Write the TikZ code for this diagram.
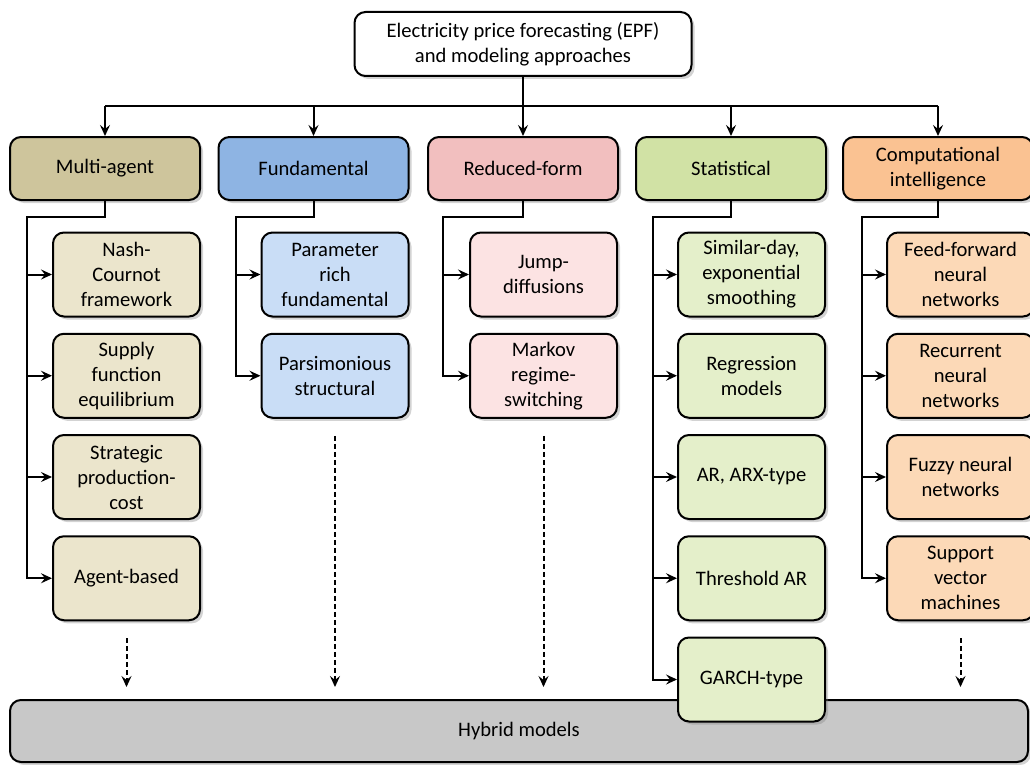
\documentclass[tikz,border=0pt]{standalone}
\usepackage{fontspec}
\setmainfont{Carlito}
\usetikzlibrary{arrows.meta,shadows}

\definecolor{agentcat}{RGB}{206,197,156}
\definecolor{agentsub}{RGB}{235,229,204}
\definecolor{fundcat}{RGB}{142,180,227}
\definecolor{fundsub}{RGB}{201,221,246}
\definecolor{redcat}{RGB}{242,191,191}
\definecolor{redsub}{RGB}{252,227,227}
\definecolor{statcat}{RGB}{209,226,165}
\definecolor{statsub}{RGB}{228,239,202}
\definecolor{compcat}{RGB}{250,194,146}
\definecolor{compsub}{RGB}{252,217,183}
\definecolor{hybridgray}{RGB}{200,200,200}

\tikzset{
  box/.style={draw=black, line width=2pt, rounded corners=11pt, align=center,
    inner sep=0pt, font=\fontsize{20.6}{25}\selectfont,
    drop shadow={shadow xshift=3pt, shadow yshift=-3pt, opacity=0.35}},
  catbox/.style={box, minimum width=190pt, minimum height=63pt},
  subbox/.style={box, minimum width=147pt, minimum height=84pt},
  arr/.style={line width=2pt, -{Stealth[length=11pt,width=10pt,inset=4pt]}},
  dasharr/.style={arr, dash pattern=on 5pt off 3pt, shorten >=12pt}
}

\begin{document}
\begin{tikzpicture}[x=1pt,y=-1pt]
\useasboundingbox (0,0) rectangle (1030,765);

\node[box, fill=white, minimum width=337pt, minimum height=64pt] (epf) at (523,44)
  {Electricity price forecasting (EPF)\\and modeling approaches};

% approaches
\node[catbox, fill=agentcat] (multi) at (105,168.5) {Multi-agent};
\node[catbox, fill=fundcat] (fund) at (313.5,168.5) {Fundamental};
\node[catbox, fill=redcat] (reduced) at (523,168.5) {Reduced-form};
\node[catbox, fill=statcat] (stat) at (731,168.5) {Statistical};
\node[catbox, fill=compcat] (comp) at (938,168.5) {Computational\\intelligence};

% hybrid
\node[box, fill=hybridgray, minimum width=1018pt, minimum height=62pt] (hybrid) at (519,731) {Hybrid models};

% multi-agent
\node[subbox, fill=agentsub] (nash) at (126.5,274.5) {Nash-\\Cournot\\framework};
\node[subbox, fill=agentsub] (supply) at (126.5,375.75) {Supply\\function\\equilibrium};
\node[subbox, fill=agentsub] (strategic) at (126.5,477) {Strategic\\production-\\cost};
\node[subbox, fill=agentsub] (agent) at (126.5,578.25) {Agent-based};

% fundamental
\node[subbox, fill=fundsub] (paramrich) at (335,274.5) {Parameter\\rich\\fundamental};
\node[subbox, fill=fundsub] (parsim) at (335,375.75) {Parsimonious\\structural};

% reduced-form
\node[subbox, fill=redsub] (jump) at (543.5,274.5) {Jump-\\diffusions};
\node[subbox, fill=redsub] (markov) at (543.5,375.75) {Markov\\regime-\\switching};

% statistical
\node[subbox, fill=statsub] (similar) at (751.5,274.5) {Similar-day,\\exponential\\smoothing};
\node[subbox, fill=statsub] (regression) at (751.5,375.75) {Regression\\models};
\node[subbox, fill=statsub] (arx) at (751.5,477) {AR, ARX-type};
\node[subbox, fill=statsub] (tar) at (751.5,578.25) {Threshold AR};
\node[subbox, fill=statsub] (garch) at (751.5,679.5) {GARCH-type};

% computational intelligence
\node[subbox, fill=compsub] (ffnn) at (960.5,274.5) {Feed-forward\\neural\\networks};
\node[subbox, fill=compsub] (rnn) at (960.5,375.75) {Recurrent\\neural\\networks};
\node[subbox, fill=compsub] (fuzzy) at (960.5,477) {Fuzzy neural\\networks};
\node[subbox, fill=compsub] (svm) at (960.5,578.25) {Support\\vector\\machines};

% top split
\coordinate (split) at (523,106);
\draw[line width=2pt] (multi.north |- split) -- (comp.north |- split);
\draw[arr] (epf.south) -- (reduced.north);
\draw[arr] (multi.north |- split) -- (multi.north);
\draw[arr] (fund.north |- split) -- (fund.north);
\draw[arr] (stat.north |- split) -- (stat.north);
\draw[arr] (comp.north |- split) -- (comp.north);

% trees
\coordinate (multibus) at (27,217);
\coordinate (fundbus) at (236,217);
\coordinate (redbus) at (443,217);
\coordinate (statbus) at (653,217);
\coordinate (compbus) at (862,217);

\draw[arr] (multi.south) |- (multibus) |- (agent.west);
\draw[arr] (multibus |- nash.west) -- (nash.west);
\draw[arr] (multibus |- supply.west) -- (supply.west);
\draw[arr] (multibus |- strategic.west) -- (strategic.west);

\draw[arr] (fund.south) |- (fundbus) |- (parsim.west);
\draw[arr] (fundbus |- paramrich.west) -- (paramrich.west);

\draw[arr] (reduced.south) |- (redbus) |- (markov.west);
\draw[arr] (redbus |- jump.west) -- (jump.west);

\draw[arr] (stat.south) |- (statbus) |- (garch.west);
\draw[arr] (statbus |- similar.west) -- (similar.west);
\draw[arr] (statbus |- regression.west) -- (regression.west);
\draw[arr] (statbus |- arx.west) -- (arx.west);
\draw[arr] (statbus |- tar.west) -- (tar.west);

\draw[arr] (comp.south) |- (compbus) |- (svm.west);
\draw[arr] (compbus |- ffnn.west) -- (ffnn.west);
\draw[arr] (compbus |- rnn.west) -- (rnn.west);
\draw[arr] (compbus |- fuzzy.west) -- (fuzzy.west);

% to hybrid
\draw[dasharr] ([yshift=-17pt]agent.south) -- (agent.south |- hybrid.north);
\draw[dasharr] ([yshift=-17pt]parsim.south) -- (parsim.south |- hybrid.north);
\draw[dasharr] ([yshift=-17pt]markov.south) -- (markov.south |- hybrid.north);
\draw[dasharr] ([yshift=-17pt]svm.south) -- (svm.south |- hybrid.north);
\end{tikzpicture}
\end{document}
